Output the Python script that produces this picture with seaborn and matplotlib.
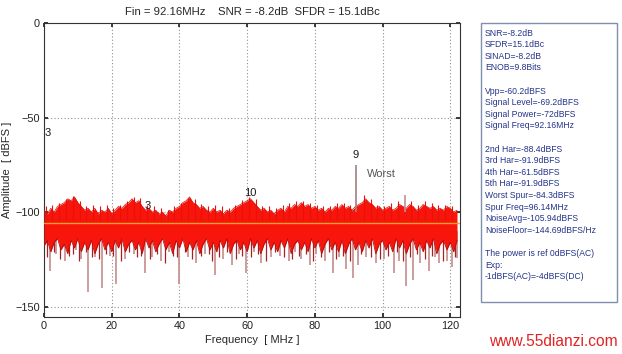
import numpy as np
import pandas as pd
import matplotlib
matplotlib.use("Agg")
import matplotlib.pyplot as plt
import seaborn as sns

# spectrum band, one value per MHz (0..122)
freq_mhz = list(range(0, 123))
band_top = [-99, -101, -98, -100, -97, -96, -95, -93, -94, -92, -95, -97, -99, -98, -100, -98,
            -101, -99, -100, -98, -101, -99, -97, -98, -96, -95, -93, -95, -94, -97, -99, -98,
            -100, -99, -101, -100, -102, -99, -100, -98, -97, -95, -94, -92, -95, -96, -98, -97,
            -99, -100, -98, -100, -99, -101, -99, -100, -98, -97, -96, -95, -94, -93, -95, -97,
            -99, -98, -100, -99, -101, -99, -98, -100, -97, -98, -96, -97, -95, -97, -96, -98,
            -97, -99, -98, -100, -98, -99, -97, -98, -96, -98, -97, -99, -97, -96, -95, -93,
            -95, -96, -98, -97, -99, -98, -97, -99, -98, -96, -97, -98, -96, -97, -99, -98,
            -96, -97, -98, -97, -99, -98, -99, -97, -98, -100, -99]
band_bottom = [-118, -115, -121, -116, -114, -120, -117, -122, -115, -119, -114, -121, -116, -120,
               -115, -122, -117, -114, -120, -116, -121, -115, -119, -114, -121, -117, -115, -120,
               -116, -122, -114, -119, -115, -121, -117, -114, -120, -116, -122, -115, -119, -114,
               -121, -116, -120, -115, -122, -117, -114, -120, -116, -121, -115, -119, -114, -122,
               -117, -115, -120, -116, -121, -114, -119, -115, -122, -117, -114, -120, -116, -121,
               -115, -119, -114, -122, -117, -115, -120, -116, -121, -114, -119, -115, -122, -117,
               -114, -120, -116, -121, -115, -122, -117, -114, -120, -116, -121, -115, -119, -114,
               -122, -117, -115, -120, -116, -121, -114, -119, -115, -122, -117, -114, -120, -116,
               -121, -115, -119, -114, -122, -117, -115, -120, -116, -121, -115]

# fine jagged tips on top of the band (freq MHz, top dBFS)
fringe_freq = [0.5, 2.5, 4.5, 6.5, 8.5, 10.5, 12.5, 14.5, 16.5, 18.5, 20.5, 22.5, 24.5, 26.5,
               28.5, 30.5, 32.5, 34.5, 36.5, 38.5, 40.5, 42.5, 44.5, 46.5, 48.5, 50.5, 52.5,
               54.5, 56.5, 58.5, 60.5, 62.5, 64.5, 66.5, 68.5, 70.5, 72.5, 74.5, 76.5, 78.5,
               80.5, 82.5, 84.5, 86.5, 88.5, 90.5, 94.5, 96.5, 98.5, 100.5, 102.5, 104.5,
               108.5, 110.5, 112.5, 114.5, 116.5, 118.5, 120.5]
fringe_top = [-97, -96, -95, -93, -91.5, -94, -97, -96, -97, -96, -98, -96, -94, -92, -92.5,
              -96, -97, -98, -99, -97, -95, -92.5, -93, -95.5, -97, -96, -97, -98, -96, -93.5,
              -92, -93, -97, -97, -98, -96, -95, -94, -94, -95, -96, -97, -97, -95, -95,
              -96, -91, -93, -96, -97, -95, -94, -94, -96, -94, -95, -96, -96, -97]

# mid-depth dark red spikes below the band
mid_freq = [0.8, 2.9, 4.8, 7.3, 8.6, 10.2, 12.4, 14.3, 16.2, 18.4, 20.3, 22.6, 25.2, 27.5, 28.7,
            31.2, 33.4, 35.8, 38.2, 39.3, 41.6, 43.7, 46.3, 48.6, 49.5, 51.8, 54.2, 56.7, 58.6,
            61.2, 63.3, 65.7, 68.2, 70.8, 73.3, 75.2, 77.4, 79.5, 81.7, 84.2, 86.3, 88.2, 90.4,
            93.6, 96.6, 99.2, 101.6, 104.2, 106.1, 108.2, 110.3, 112.4, 114.6, 117.8, 121.3]
mid_low = [-124, -121, -125, -123, -122, -126, -121, -124, -125, -122, -123, -126, -121, -124,
           -123, -125, -122, -127, -123, -124, -121, -125, -123, -122, -126, -124, -121, -125,
           -123, -124, -122, -126, -121, -124, -125, -123, -122, -126, -124, -121, -125, -123,
           -126, -122, -124, -125, -123, -121, -126, -124, -122, -125, -123, -126, -124]

# deep downward spikes (freq MHz, lowest dBFS)
spike_freq = [1.8, 3.5, 6.2, 9.5, 11, 13, 15, 17, 19.5, 21.4, 24, 26.5, 29.8, 32, 34.5, 37, 40,
              42.5, 45, 47.5, 50.4, 53, 55.5, 57.5, 59.8, 62, 64.2, 67, 69.6, 72.5, 74, 76, 78.5,
              80.4, 83, 85.3, 87, 89.3, 91.2, 92.7, 95, 98, 100.5, 103.5, 105, 107, 109, 111,
              113.8, 115.5, 116.8, 119, 120.5, 122]
spike_low = [-131, -122, -126, -120, -125, -142.5, -124, -140, -123, -138, -125, -122, -132, -124,
             -126, -121, -138, -124, -127, -122, -133.5, -125, -128, -122, -132, -121, -127, -124,
             -123, -126, -121, -125, -128, -122, -126, -132, -124, -130, -135, -128, -124, -127,
             -125, -132, -126, -139, -136, -127, -131, -124, -127, -126, -129, -124.5]

# upward tones
tone_freq = [92.16, 106.5]
tone_high = [-75, -91]
noise_avg = -105.94

marker_text = ["3", "3", "10", "9"]
marker_x = [0.3, 30.5, 61.0, 92.16]
marker_y = [-58, -97, -90, -70]

panel_lines = ["SNR=-8.2dB", "SFDR=15.1dBc", "SINAD=-8.2dB", "ENOB=9.8Bits", "",
               "Vpp=-60.2dBFS", "Signal Level=-69.2dBFS", "Signal Power=-72dBFS",
               "Signal Freq=92.16MHz", "",
               "2nd Har=-88.4dBFS", "3rd Har=-91.9dBFS", "4th Har=-61.5dBFS", "5th Har=-91.9dBFS",
               "Worst Spur=-84.3dBFS", "Spur Freq=96.14MHz", "NoiseAvg=-105.94dBFS",
               "NoiseFloor=-144.69dBFS/Hz", "",
               "The power is ref 0dBFS(AC)", "Exp:", "-1dBFS(AC)=-4dBFS(DC)"]

sns.set_theme(style="white")
plt.rcParams['font.family'] = ['Liberation Sans', 'DejaVu Sans']

fig = plt.figure(figsize=(6.22, 3.54), dpi=100)
ax = fig.add_axes([44/622, 1-317/354, 416/622, 294/354])

df = pd.DataFrame({"f": freq_mhz, "top": band_top, "bot": band_bottom})

# deep spikes behind the band
ax.vlines(spike_freq, spike_low, -110, colors="#c48c8c", lw=1.2, zorder=2)
ax.vlines(mid_freq, mid_low, -112, colors="#a82020", lw=0.9, zorder=2)
ax.fill_between(df["f"], df["bot"], df["top"], color="#f8150c", lw=0, zorder=3)
ax.vlines(fringe_freq, -104, fringe_top, colors="#e81008", lw=0.8, zorder=3)
sns.lineplot(data=df, x="f", y="top", color="#d40c08", lw=0.5, ax=ax, zorder=4)
sns.lineplot(data=df, x="f", y="bot", color="#b01010", lw=0.6, ax=ax, zorder=4)
ax.vlines(tone_freq, -100, tone_high, colors=["#a08080", "#c09090"], lw=1.2, zorder=4)
ax.axhline(noise_avg, color="#f0a030", lw=1.0, zorder=5)

for t, x, y in zip(marker_text, marker_x, marker_y):
    ax.text(x, y, t, fontsize=8, color="#1a1a1a", ha="left" if x < 1 else "center",
            va="center", zorder=6)
ax.text(95.5, -80, "Worst", fontsize=8, color="#555555", ha="left", va="center", zorder=6)

ax.set_xlim(0, 122.88)
ax.set_ylim(-155.5, 0)
ax.set_xticks([0, 20, 40, 60, 80, 100, 120])
ax.set_yticks([0, -50, -100, -150])
ax.tick_params(labelsize=7.8, length=3, direction="in", pad=3, colors="#222222",
               top=True, right=True, bottom=True, left=True)
ax.grid(True, ls=(0, (1, 2)), color="#909090", lw=0.8)
for s in ax.spines.values():
    s.set_color("#333333")
    s.set_linewidth(0.8)
ax.set_xlabel("Frequency  [ MHz ]", fontsize=8, labelpad=3)
ax.set_ylabel("Amplitude  [ dBFS ]", fontsize=8, labelpad=2)
ax.set_title("Fin = 92.16MHz    SNR = -8.2dB  SFDR = 15.1dBc", fontsize=8.2, pad=6)

# info panel
px0, py0, px1, py1 = 481/622, 1-302/354, 617/622, 1-23/354
box = plt.Rectangle((px0, py0), px1-px0, py1-py0, transform=fig.transFigure,
                    fill=False, ec="#7f8fb0", lw=1.0)
fig.add_artist(box)
for i, line in enumerate(panel_lines):
    fig.text(485/622, 1-(33 + i*11.6)/354, line, fontsize=6.2, color="#24348a",
             ha="left", va="center")

fig.text(553/622, 1-342/354, "www.55dianzi.com", fontsize=11.2, color="#e02424",
         ha="center", va="center")

fig.savefig("out.png", dpi=100)
